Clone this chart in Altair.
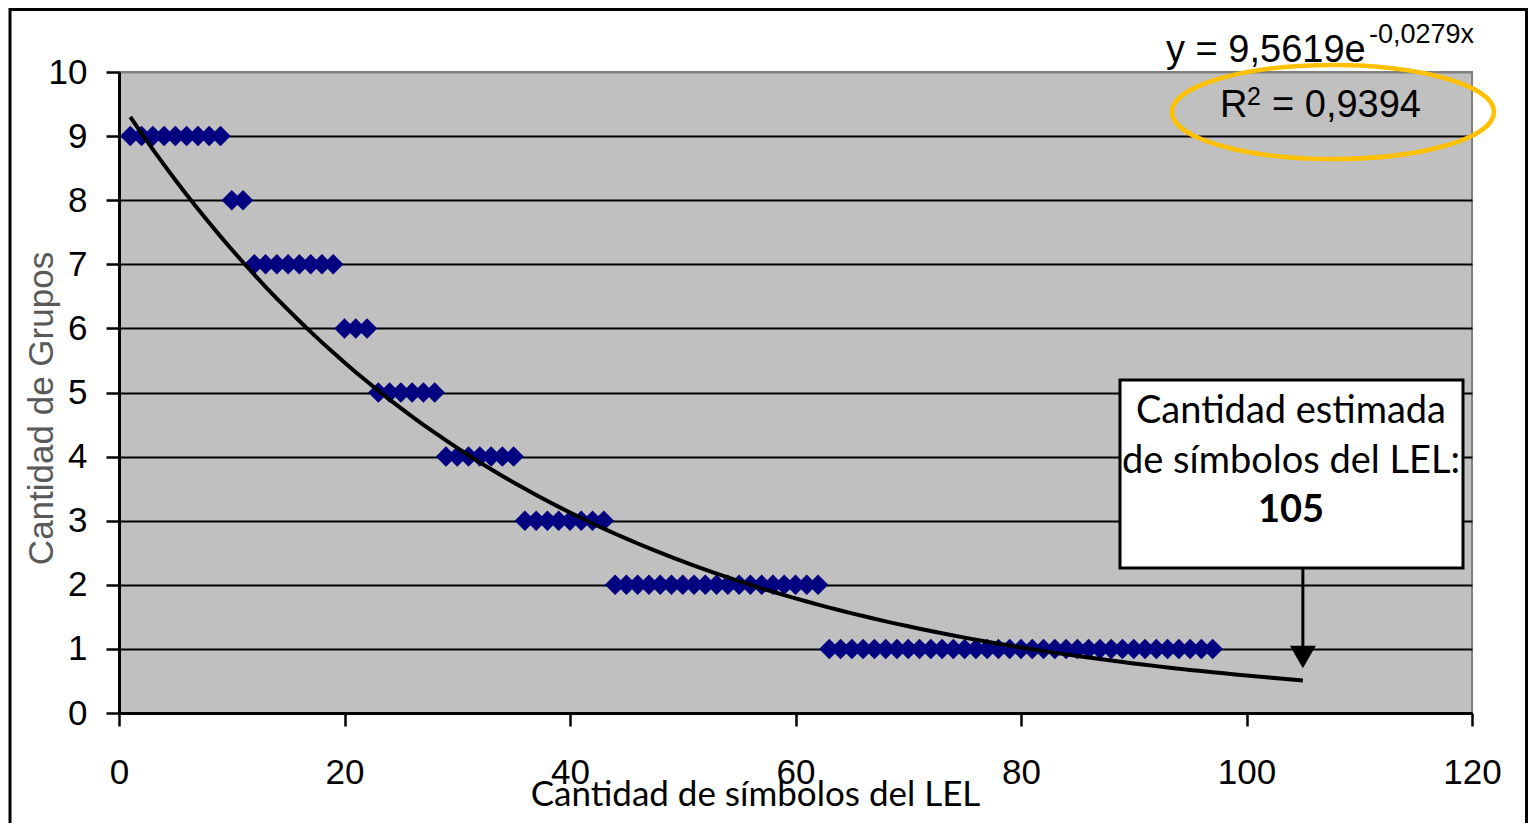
import altair as alt
import numpy as np
import pandas as pd

# ---------------- data ----------------
simbolos = [1, 2, 3, 4, 5, 6, 7, 8, 9,
            10, 11,
            12, 13, 14, 15, 16, 17, 18, 19,
            20, 21, 22,
            23, 24, 25, 26, 27, 28,
            29, 30, 31, 32, 33, 34, 35,
            36, 37, 38, 39, 40, 41, 42, 43,
            44, 45, 46, 47, 48, 49, 50, 51, 52, 53, 54, 55, 56, 57, 58, 59, 60, 61, 62,
            63, 64, 65, 66, 67, 68, 69, 70, 71, 72, 73, 74, 75, 76, 77, 78, 79, 80,
            81, 82, 83, 84, 85, 86, 87, 88, 89, 90, 91, 92, 93, 94, 95, 96, 97]
grupos = [9, 9, 9, 9, 9, 9, 9, 9, 9,
          8, 8,
          7, 7, 7, 7, 7, 7, 7, 7,
          6, 6, 6,
          5, 5, 5, 5, 5, 5,
          4, 4, 4, 4, 4, 4, 4,
          3, 3, 3, 3, 3, 3, 3, 3,
          2, 2, 2, 2, 2, 2, 2, 2, 2, 2, 2, 2, 2, 2, 2, 2, 2, 2, 2,
          1, 1, 1, 1, 1, 1, 1, 1, 1, 1, 1, 1, 1, 1, 1, 1, 1, 1,
          1, 1, 1, 1, 1, 1, 1, 1, 1, 1, 1, 1, 1, 1, 1, 1, 1]

x_ticks = [0, 20, 40, 60, 80, 100, 120]
y_ticks = [0, 1, 2, 3, 4, 5, 6, 7, 8, 9, 10]

estimado = 105
eq_main = "y = 9,5619e"
eq_exp = "-0,0279x"
r2_main = "R"
r2_sup = "2"
r2_val = "= 0,9394"
caja_lineas = ["Cantidad estimada", "de símbolos del LEL:"]
caja_valor = "105"

# exponential trend line fitted (least squares on ln y) from the data
coef = np.polyfit(np.array(simbolos, float), np.log(np.array(grupos, float)), 1)
trend_x = np.arange(1, estimado + 1, 1.0)
trend_y = np.exp(coef[1]) * np.exp(coef[0] * trend_x)

pts_df = pd.DataFrame({"x": simbolos, "y": grupos})
trend_df = pd.DataFrame({"x": trend_x, "y": trend_y})
one = pd.DataFrame({"k": [0]})

W, H = 1353, 641
xscale = alt.Scale(domain=[0, 120], nice=False, zero=False)
yscale = alt.Scale(domain=[0, 10], nice=False)

xaxis = alt.Axis(values=x_ticks, format="d", grid=False, domainColor="black", domainWidth=3,
                 tickColor="black", tickWidth=2.5, tickSize=13,
                 labelFont="Liberation Sans", labelFontSize=35, labelColor="black",
                 labelPadding=29, labelFlush=False, labelOverlap=False,
                 title="Cantidad de símbolos del LEL", titleFont="Lato",
                 titleFontSize=35, titleFontWeight="normal", titleColor="black",
                 titleX=636, titleY=92, titleBaseline="alphabetic", titleAlign="center")
yaxis = alt.Axis(values=y_ticks, format="d", grid=True,
                 gridColor={"condition": {"test": "datum.value === 10", "value": "#808080"},
                            "value": "black"},
                 gridWidth=2, domainColor="black", domainWidth=3,
                 tickColor="black", tickWidth=2.5, tickSize=13,
                 labelFont="Liberation Sans", labelFontSize=35, labelColor="black",
                 labelPadding=19, labelOverlap=False,
                 title="Cantidad de Grupos", titleFont="Liberation Sans",
                 titleFontSize=35, titleFontWeight="normal", titleColor="#595959",
                 titleX=-67, titleY=336, titleAngle=270, titleBaseline="alphabetic",
                 titleAlign="center")

frame = alt.Chart(one).mark_rect(fill="white", fillOpacity=0, stroke="black",
                                 strokeWidth=3).encode(
    x=alt.value(-109), x2=alt.value(1407.5), y=alt.value(-62.5), y2=alt.value(780))

points = alt.Chart(pts_df).mark_point(shape="diamond", filled=True, size=420,
                                      color="#000080", opacity=1).encode(
    x=alt.X("x:Q", scale=xscale, axis=xaxis),
    y=alt.Y("y:Q", scale=yscale, axis=yaxis))

trend = alt.Chart(trend_df).mark_line(color="black", strokeWidth=4).encode(
    x=alt.X("x:Q", scale=xscale), y=alt.Y("y:Q", scale=yscale))

def txt(s, x, y, size, font="Liberation Sans", align="left", weight="normal"):
    return alt.Chart(one).mark_text(text=s, font=font, fontSize=size, align=align,
                                    baseline="alphabetic", fontWeight=weight,
                                    color="black").encode(x=alt.value(x), y=alt.value(y))

eq1 = txt(eq_main, 1047, -10, 38)
eq2 = txt(eq_exp, 1250, -29, 27)
r1 = txt(r2_main, 1101, 45, 38)
r2 = txt(r2_sup, 1128, 33, 25)
r3 = txt(r2_val, 1153, 45, 38)

ellipse = alt.Chart(one).mark_point(
    shape="M -1 0 A 1 0.292 0 1 1 1 0 A 1 0.292 0 1 1 -1 0 Z",
    size=322 * 322, filled=False, stroke="#FFC000", strokeWidth=4.5, opacity=1,
    fill="transparent").encode(x=alt.value(1214), y=alt.value(40))

box = alt.Chart(one).mark_rect(fill="white", stroke="black", strokeWidth=3).encode(
    x=alt.value(1001), x2=alt.value(1344), y=alt.value(308), y2=alt.value(496))

b1 = txt(caja_lineas[0], 1172, 351, 38, font="Lato", align="center")
b2 = txt(caja_lineas[1], 1172, 401, 38, font="Lato", align="center")
b3 = txt(caja_valor, 1172, 450, 38, font="Lato", align="center", weight="bold")

arrow_df = pd.DataFrame({"x": [estimado]})
shaft = alt.Chart(arrow_df).mark_rule(color="black", strokeWidth=3).encode(
    x=alt.X("x:Q", scale=xscale), y=alt.value(496), y2=alt.value(575))
head = alt.Chart(arrow_df).mark_point(shape="triangle-down", filled=True, size=676,
                                      color="black", opacity=1).encode(
    x=alt.X("x:Q", scale=xscale), y=alt.value(585))

chart = alt.layer(frame, points, trend, eq1, eq2, ellipse, r1, r2, r3,
                  box, b1, b2, b3, shaft, head).properties(
    width=W, height=H, autosize="none",
    padding={"left": 111, "top": 64, "right": 57, "bottom": 110},
    background="white",
).configure_view(fill="#C0C0C0", stroke="#808080", strokeWidth=2)

chart.save("out.html", embed_options={"renderer": "svg", "actions": False})
